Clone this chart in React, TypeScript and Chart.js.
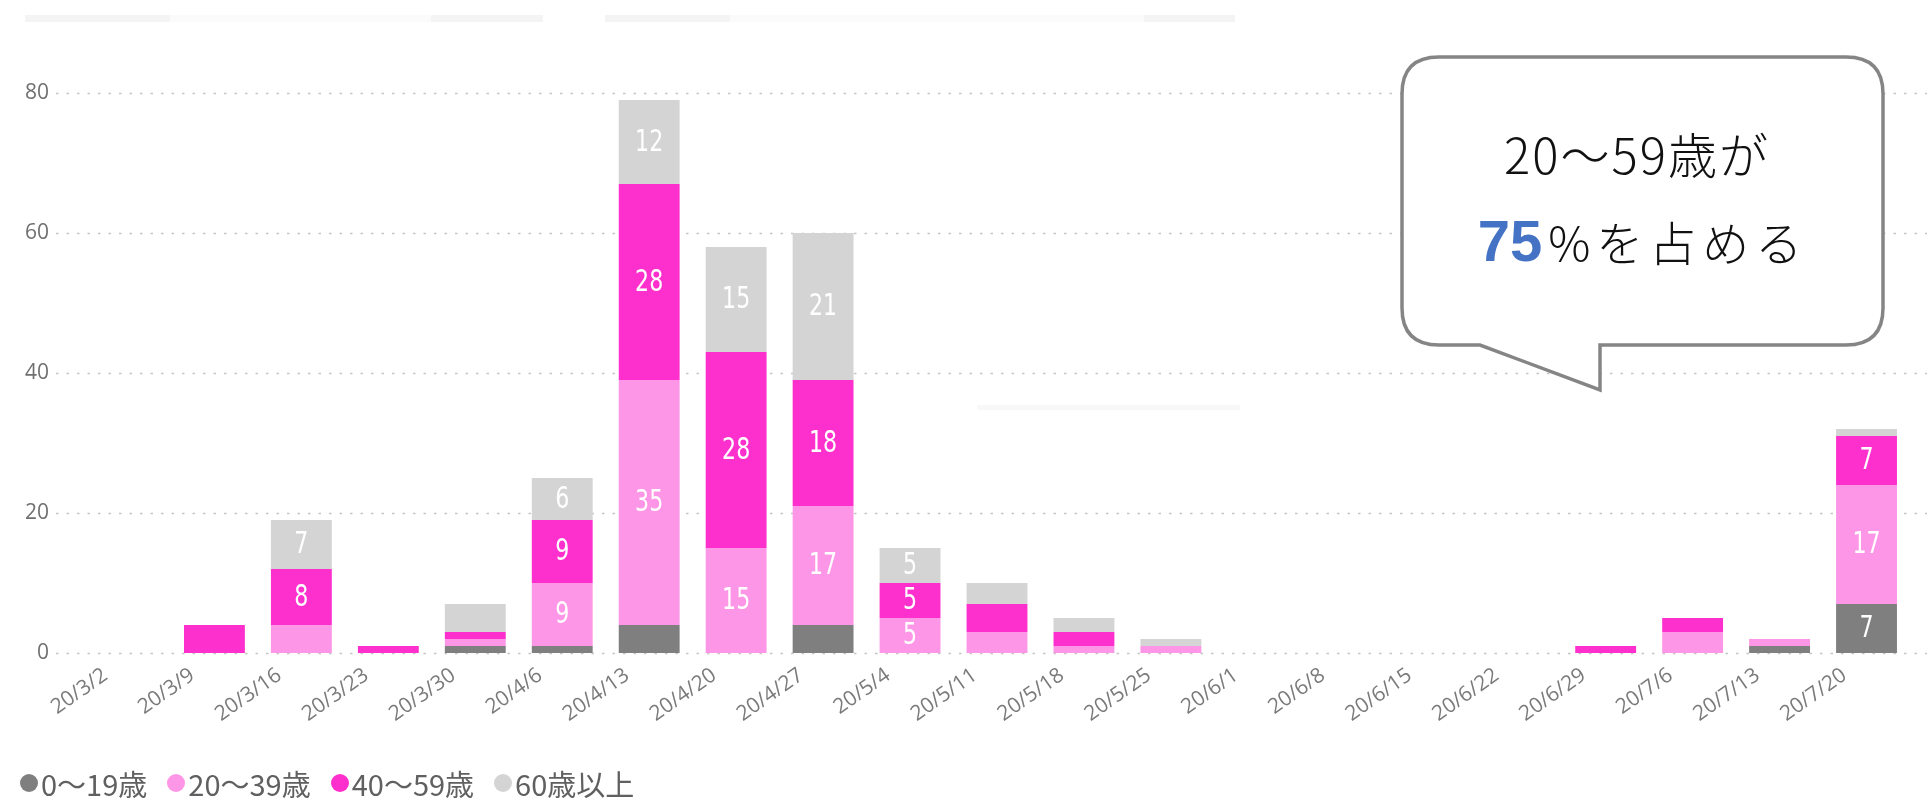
import React, { useEffect, useRef } from "react";
import { Chart, registerables } from "chart.js";

Chart.register(...registerables);

const categories = [
  "20/3/2", "20/3/9", "20/3/16", "20/3/23", "20/3/30", "20/4/6", "20/4/13",
  "20/4/20", "20/4/27", "20/5/4", "20/5/11", "20/5/18", "20/5/25", "20/6/1",
  "20/6/8", "20/6/15", "20/6/22", "20/6/29", "20/7/6", "20/7/13", "20/7/20",
];

const seriesNames = ["0〜19歳", "20〜39歳", "40〜59歳", "60歳以上"];
const seriesColors = ["#7f7f7f", "#fd96e6", "#fe30cd", "#d4d4d4"];

const age0to19 = [0, 0, 0, 0, 1, 1, 4, 0, 4, 0, 0, 0, 0, 0, 0, 0, 0, 0, 0, 1, 7];
const age20to39 = [0, 0, 4, 0, 1, 9, 35, 15, 17, 5, 3, 1, 1, 0, 0, 0, 0, 0, 3, 1, 17];
const age40to59 = [0, 4, 8, 1, 1, 9, 28, 28, 18, 5, 4, 2, 0, 0, 0, 0, 0, 1, 2, 0, 7];
const age60plus = [0, 0, 7, 0, 4, 6, 12, 15, 21, 5, 3, 2, 1, 0, 0, 0, 0, 0, 0, 0, 1];

const yTicks = [0, 20, 40, 60, 80];
const labelMin = 5;

const calloutLine1 = "20〜59歳が";
const calloutPct = "75";
const calloutRest = "%を占める";

const W = 1927;
const H = 799;

const gridPlugin = {
  id: "dottedGrid",
  beforeDatasetsDraw(chart: any) {
    const ctx = chart.ctx;
    const ys = chart.scales.y;
    ctx.save();
    ctx.strokeStyle = "#c4c4c4";
    ctx.lineWidth = 1.5;
    ctx.setLineDash([2.5, 8]);
    ys.ticks.forEach((t: any) => {
      const py = Math.round(ys.getPixelForValue(t.value)) + 0.5;
      ctx.beginPath();
      ctx.moveTo(56, py);
      ctx.lineTo(chart.width, py);
      ctx.stroke();
    });
    ctx.restore();
  },
};

const labelPlugin = {
  id: "segLabels",
  afterDatasetsDraw(chart: any) {
    const ctx = chart.ctx;
    ctx.save();
    ctx.fillStyle = "#ffffff";
    ctx.font = '500 30px "DejaVu Sans Condensed", "Liberation Sans Narrow", sans-serif';
    ctx.textAlign = "center";
    ctx.textBaseline = "middle";
    chart.data.datasets.forEach((ds: any, i: number) => {
      const meta = chart.getDatasetMeta(i);
      meta.data.forEach((el: any, j: number) => {
        const v = ds.data[j];
        if (v >= labelMin) {
          const p = el.getProps(["x", "y", "base"], true);
          const cy = (p.y + p.base) / 2 + 1;
          ctx.save();
          ctx.translate(p.x, cy);
          ctx.scale(0.82, 1);
          ctx.fillText(String(v), 0, 0);
          ctx.restore();
        }
      });
    });
    ctx.restore();
  },
};

export default function App() {
  const ref = useRef<HTMLCanvasElement | null>(null);

  useEffect(() => {
    if (!ref.current) return;
    const values = [age0to19, age20to39, age40to59, age60plus];
    const chart = new Chart(ref.current, {
      type: "bar",
      data: {
        labels: categories,
        datasets: values.map((d, i) => ({
          label: seriesNames[i],
          data: d,
          backgroundColor: seriesColors[i],
          borderWidth: 0,
          categoryPercentage: 1,
          barPercentage: 0.7,
        })),
      },
      options: {
        responsive: false,
        animation: false,
        layout: { padding: { top: 93, right: 17, left: 0, bottom: 0 } },
        plugins: {
          legend: { display: false },
          tooltip: { enabled: false },
        },
        scales: {
          x: {
            stacked: true,
            offset: true,
            grid: { display: false, drawTicks: false },
            border: { display: false },
            ticks: {
              autoSkip: false,
              minRotation: 35,
              maxRotation: 35,
              labelOffset: -22,
              padding: 10,
              color: "#7a7a7a",
              font: { family: '"Open Sans", "Noto Sans", sans-serif', size: 21 },
            },
            afterFit(scale: any) {
              scale.height = H - 653;
            },
          },
          y: {
            stacked: true,
            min: 0,
            max: 80,
            grid: { display: false, drawTicks: false },
            border: { display: false },
            afterBuildTicks(scale: any) {
              scale.ticks = yTicks.map((v) => ({ value: v }));
            },
            ticks: {
              padding: 35,
              color: "#707070",
              font: { family: '"Open Sans", "Noto Sans", sans-serif', size: 21 },
            },
            afterFit(scale: any) {
              scale.width = 84;
            },
          },
        },
      },
      plugins: [gridPlugin, labelPlugin],
    });
    return () => chart.destroy();
  }, []);

  const r = 37;
  const L = 1402, T = 57, R = 1883, B = 345;
  const bubble =
    `M ${L + r} ${T} L ${R - r} ${T} Q ${R} ${T} ${R} ${T + r} L ${R} ${B - r} Q ${R} ${B} ${R - r} ${B} ` +
    `L 1600 ${B} L 1600 390 L 1480 ${B} L ${L + r} ${B} Q ${L} ${B} ${L} ${B - r} L ${L} ${T + r} Q ${L} ${T} ${L + r} ${T} Z`;

  const faint = [
    { x: 25, w: 145, c: "#f4f4f4" },
    { x: 170, w: 261, c: "#fbfbfb" },
    { x: 431, w: 112, c: "#f4f4f4" },
    { x: 605, w: 125, c: "#f4f4f4" },
    { x: 730, w: 414, c: "#fbfbfb" },
    { x: 1144, w: 91, c: "#f4f4f4" },
  ];

  return (
    <div style={{ position: "fixed", left: 0, top: 0, width: W, height: H, background: "#fff", overflow: "hidden" }}>
      {faint.map((f, i) => (
        <div key={i} style={{ position: "absolute", left: f.x, top: 15, width: f.w, height: 7, background: f.c }} />
      ))}
      <div style={{ position: "absolute", left: 977, top: 405, width: 263, height: 5, background: "#f8f8f8" }} />
      <canvas ref={ref} width={W} height={H} style={{ position: "absolute", left: 0, top: 0 }} />
      <svg width={W} height={H} style={{ position: "absolute", left: 0, top: 0, pointerEvents: "none" }}>
        <path d={bubble} fill="#ffffff" stroke="#858585" strokeWidth={3.5} strokeLinejoin="miter" />
        <text
          x={1637}
          y={174}
          textAnchor="middle"
          fontFamily='"Noto Sans CJK JP", sans-serif'
          fontSize={49}
          fontWeight={300}
          letterSpacing={2}
          fill="#111"
        >
          {calloutLine1}
        </text>
        <text x={1643} y={261} textAnchor="middle" fill="#111">
          <tspan fontFamily='"Liberation Sans", Arial, sans-serif' fontWeight="bold" fontSize={58} fill="#4472c4">
            {calloutPct}
          </tspan>
          <tspan fontFamily='"Noto Sans CJK JP", sans-serif' fontWeight={300} fontSize={47} letterSpacing={6} dx={6}>
            {calloutRest}
          </tspan>
        </text>
      </svg>
      <div
        style={{
          position: "absolute",
          left: 20,
          top: 765,
          display: "flex",
          alignItems: "center",
          fontFamily: '"Noto Sans CJK JP", "Noto Sans", sans-serif',
          fontSize: 29,
          color: "#606060",
          lineHeight: "36px",
          whiteSpace: "nowrap",
        }}
      >
        {seriesNames.map((n, i) => (
          <div key={i} style={{ display: "flex", alignItems: "center", marginRight: 20 }}>
            <span
              style={{
                display: "inline-block",
                width: 18,
                height: 18,
                borderRadius: "50%",
                background: seriesColors[i],
                marginRight: 3,
              }}
            />
            <span>{n}</span>
          </div>
        ))}
      </div>
    </div>
  );
}
